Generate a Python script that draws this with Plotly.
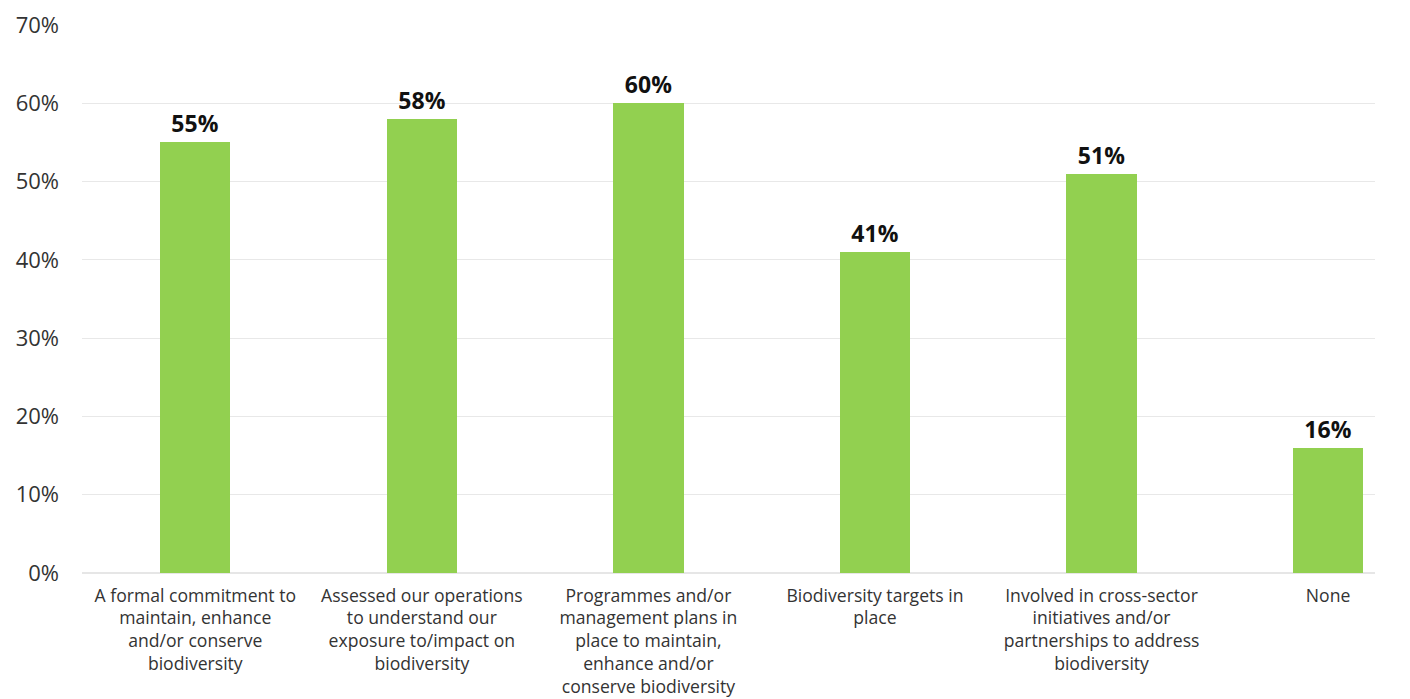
import plotly.graph_objects as go

categories = [
    "A formal commitment to<br>maintain, enhance<br>and/or conserve<br>biodiversity",
    "Assessed our operations<br>to understand our<br>exposure to/impact on<br>biodiversity",
    "Programmes and/or<br>management plans in<br>place to maintain,<br>enhance and/or<br>conserve biodiversity",
    "Biodiversity targets in<br>place",
    "Involved in cross-sector<br>initiatives and/or<br>partnerships to address<br>biodiversity",
    "None",
]
values = [55, 58, 60, 41, 51, 16]
y_ticks = [0, 10, 20, 30, 40, 50, 60, 70]

positions = list(range(len(categories)))

fig = go.Figure(
    go.Bar(
        x=positions,
        y=values,
        width=0.31,
        marker=dict(color="#92D050", line=dict(width=0)),
        text=[f"{v}%" for v in values],
        textposition="outside",
        textfont=dict(family="Open Sans", size=23, color="#111111", weight="bold"),
        cliponaxis=False,
    )
)

fig.update_layout(
    width=1410,
    height=699,
    margin=dict(l=82, r=35, t=25, b=126),
    plot_bgcolor="white",
    paper_bgcolor="white",
    showlegend=False,
    font=dict(family="Open Sans", size=17, color="#333333"),
    bargap=0,
)
fig.update_xaxes(
    tickmode="array",
    tickvals=positions,
    ticktext=categories,
    range=[-0.5, 5.207],
    showgrid=False,
    showline=False,
    zeroline=False,
    ticks="",
    automargin=False,
    ticklabelstandoff=10,
    tickfont=dict(family="Open Sans", size=17.6, color="#333333"),
)
fig.update_yaxes(
    range=[0, 70],
    tickvals=y_ticks,
    ticktext=[f"{t}%" for t in y_ticks],
    showgrid=True,
    gridcolor="#e8e8e8",
    gridwidth=1,
    zeroline=True,
    zerolinecolor="#e6e6e6",
    showline=False,
    ticks="",
    automargin=False,
    ticklabelstandoff=22,
    tickfont=dict(family="Open Sans", size=22, color="#333333"),
)

fig.write_html("out.html")
